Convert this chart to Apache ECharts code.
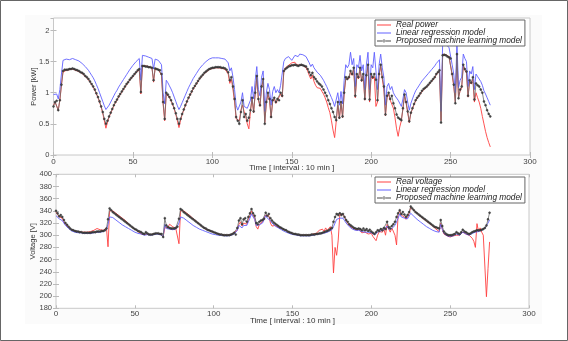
<!DOCTYPE html>
<html>
<head>
<meta charset="utf-8">
<script src="https://cdn.jsdelivr.net/npm/echarts@6/dist/echarts.min.js"></script>
<style>
html,body{margin:0;padding:0;background:#fff;}
#c{width:568px;height:341px;}
</style>
</head>
<body>
<div id="c"></div>
<script>
// ---------- DATA ----------
var xTicks = [0, 50, 100, 150, 200, 250, 300];
var powerTicks = [0, 0.5, 1, 1.5, 2];
var voltageTicks = [180, 200, 220, 240, 260, 280, 300, 320, 340, 360, 380, 400];

var powerNames = ['Real power', 'Linear regression model', 'Proposed machine learning model'];
var voltageNames = ['Real voltage', 'Linear regression model', 'Proposed machine learning model'];

var powerReal = [
0.80,0.85,0.86,0.72,0.88,1.12,1.33,1.35,1.36,1.36,
1.37,1.37,1.38,1.37,1.36,1.35,1.34,1.32,1.31,1.29,
1.26,1.24,1.21,1.17,1.13,1.09,1.04,0.98,0.92,0.85,
0.77,0.67,0.55,0.43,0.53,0.61,0.67,0.73,0.79,0.84,
0.88,0.93,0.97,1.01,1.05,1.09,1.13,1.16,1.20,1.23,
1.26,1.29,1.32,1.35,1.37,0.98,1.43,1.44,1.43,1.42,
1.42,1.41,1.40,1.17,1.39,1.38,1.37,1.35,1.28,0.82,
0.55,0.98,0.96,0.92,0.87,0.81,0.74,0.65,0.55,0.44,
0.56,0.65,0.72,0.79,0.85,0.91,0.96,1.01,1.06,1.10,
1.14,1.18,1.22,1.25,1.28,1.31,1.33,1.35,1.37,1.38,
1.39,1.39,1.40,1.40,1.40,1.40,1.39,1.39,1.38,1.36,
1.30,1.15,1.22,1.05,0.85,0.58,0.60,0.55,0.72,0.80,
0.70,0.62,0.50,0.42,0.70,0.90,0.68,0.98,1.25,0.88,
0.78,1.08,1.20,0.52,0.83,0.98,0.88,0.60,0.86,0.90,
0.83,0.88,0.86,0.98,0.93,1.33,1.40,1.42,1.44,1.45,
1.48,1.46,1.49,1.45,1.43,1.44,1.45,1.44,1.42,1.40,
1.35,1.28,1.22,1.28,1.18,1.12,1.08,1.10,1.07,1.02,
0.98,0.92,0.85,0.76,0.68,0.55,0.40,0.28,0.25,0.80,
0.58,0.83,0.60,0.98,1.22,1.20,1.23,1.33,1.28,1.38,
0.92,1.28,1.22,1.38,1.18,1.28,0.88,1.26,1.43,0.85,
1.28,1.22,1.26,0.78,0.85,1.28,1.43,1.22,1.05,0.63,
0.92,0.98,0.88,0.90,0.75,0.60,0.42,0.30,0.45,0.55,
0.74,0.96,0.83,0.68,0.52,0.67,0.74,0.81,0.87,0.91,
0.94,0.98,1.02,1.05,1.07,1.09,1.12,1.15,1.18,1.21,
1.24,1.29,1.32,1.35,0.55,1.62,1.62,1.61,1.59,1.58,
1.56,1.28,1.10,0.85,1.60,0.92,1.03,1.08,1.43,1.36,
1.32,0.93,1.18,1.14,1.22,0.85,1.00,0.92,0.85,0.75,
0.62,0.50,0.38,0.28,0.20,0.13
];

var powerLinear = [
0.97,1.00,0.98,0.90,1.05,1.30,1.52,1.54,1.54,1.53,
1.53,1.54,1.55,1.54,1.53,1.52,1.51,1.49,1.47,1.45,
1.42,1.39,1.36,1.32,1.28,1.24,1.19,1.13,1.07,1.00,
0.93,0.86,0.79,0.73,0.75,0.80,0.85,0.90,0.95,1.00,
1.04,1.09,1.13,1.17,1.21,1.25,1.29,1.33,1.37,1.40,
1.44,1.47,1.50,1.53,1.55,1.20,1.60,1.60,1.59,1.58,
1.57,1.56,1.55,1.38,1.54,1.53,1.52,1.50,1.45,1.00,
0.82,1.20,1.16,1.11,1.06,1.00,0.93,0.86,0.79,0.73,
0.78,0.84,0.90,0.96,1.02,1.08,1.13,1.18,1.23,1.27,
1.31,1.35,1.39,1.42,1.45,1.48,1.50,1.52,1.54,1.55,
1.56,1.56,1.56,1.56,1.56,1.56,1.55,1.55,1.54,1.52,
1.48,1.35,1.40,1.25,1.05,0.80,0.72,0.70,0.85,1.00,
0.78,0.80,0.75,0.78,0.88,1.10,0.90,1.20,1.42,1.05,
0.95,1.25,1.35,0.70,1.00,1.15,1.05,0.80,1.02,1.10,
1.00,1.05,1.00,1.12,1.10,1.50,1.55,1.57,1.58,1.58,
1.52,1.55,1.60,1.59,1.58,1.62,1.62,1.61,1.60,1.58,
1.55,1.48,1.42,1.46,1.40,1.37,1.33,1.31,1.28,1.25,
1.20,1.15,1.10,1.04,0.98,0.92,0.86,0.78,0.75,1.00,
0.80,1.02,0.82,1.20,1.45,1.40,1.45,1.65,1.45,1.55,
1.10,1.45,1.40,1.60,1.35,1.45,1.05,1.45,1.65,1.05,
1.45,1.40,1.65,1.35,1.05,1.45,1.62,1.40,1.25,0.80,
1.10,1.15,1.05,1.10,1.00,0.95,0.92,0.88,0.85,0.78,
0.90,1.05,1.00,0.85,0.72,0.83,0.90,0.97,1.03,1.07,
1.11,1.15,1.19,1.22,1.25,1.28,1.31,1.34,1.37,1.40,
1.43,1.47,1.50,1.53,0.70,1.78,1.78,1.77,1.75,1.73,
1.71,1.45,1.30,1.00,1.80,1.08,1.20,1.25,1.62,1.55,
1.50,1.10,1.35,1.30,1.42,1.05,1.30,1.26,1.22,1.18,
1.12,1.03,0.98,0.92,0.86,0.80
];

var powerProposed = [
0.78,0.85,0.87,0.72,0.88,1.13,1.35,1.37,1.37,1.37,
1.38,1.38,1.39,1.38,1.37,1.36,1.35,1.33,1.32,1.30,
1.27,1.25,1.22,1.18,1.14,1.10,1.05,0.99,0.93,0.86,
0.78,0.69,0.58,0.50,0.55,0.62,0.68,0.74,0.80,0.85,
0.89,0.94,0.98,1.02,1.06,1.10,1.14,1.17,1.21,1.24,
1.27,1.30,1.33,1.36,1.38,1.01,1.43,1.43,1.42,1.42,
1.41,1.41,1.40,1.20,1.39,1.38,1.37,1.36,1.30,0.85,
0.58,1.00,0.97,0.93,0.88,0.82,0.75,0.67,0.58,0.50,
0.58,0.66,0.73,0.80,0.86,0.92,0.97,1.02,1.07,1.11,
1.15,1.19,1.23,1.26,1.29,1.32,1.34,1.36,1.38,1.39,
1.40,1.40,1.41,1.41,1.41,1.41,1.40,1.40,1.39,1.37,
1.33,1.20,1.25,1.10,0.90,0.61,0.55,0.50,0.69,0.88,
0.61,0.66,0.55,0.60,0.72,0.92,0.70,1.00,1.27,0.90,
0.80,1.10,1.22,0.50,0.85,1.00,0.90,0.61,0.88,0.92,
0.85,0.90,0.88,1.00,0.95,1.35,1.38,1.40,1.42,1.43,
1.44,1.44,1.45,1.44,1.43,1.44,1.45,1.44,1.43,1.42,
1.38,1.33,1.28,1.32,1.25,1.22,1.18,1.15,1.13,1.10,
1.05,1.00,0.95,0.88,0.82,0.75,0.69,0.61,0.56,0.85,
0.60,0.85,0.62,1.00,1.25,1.22,1.25,1.35,1.30,1.40,
0.95,1.30,1.25,1.40,1.20,1.30,0.90,1.28,1.45,0.89,
1.30,1.25,1.30,1.21,0.88,1.30,1.45,1.25,1.10,0.65,
0.95,1.00,0.90,0.95,0.83,0.75,0.65,0.60,0.58,0.56,
0.75,0.97,0.85,0.70,0.54,0.68,0.75,0.82,0.88,0.92,
0.95,0.99,1.03,1.06,1.08,1.10,1.13,1.16,1.19,1.22,
1.25,1.30,1.33,1.36,0.52,1.60,1.61,1.60,1.58,1.57,
1.55,1.30,1.13,0.83,1.62,0.91,1.05,1.10,1.45,1.38,
1.34,0.95,1.20,1.16,1.25,0.89,1.15,1.12,1.10,1.05,
1.00,0.86,0.80,0.72,0.66,0.62
];

var voltageReal = [
338,334,330,332,328,322,318,315,313,310,
309,308,307,306,306,305,305,305,305,305,
305,305,306,307,308,309,311,310,309,308,
308,309,312,281,340,342,340,338,336,334,
332,330,328,326,324,321,319,316,314,312,
310,308,306,304,302,301,301,303,302,301,
301,301,302,303,303,303,302,301,298,312,
312,313,318,320,314,311,311,312,286,340,
342,340,338,336,334,332,330,327,325,323,
320,318,316,314,312,310,309,308,307,306,
305,304,303,302,301,301,300,300,300,300,
300,301,303,305,302,308,318,322,315,320,
322,318,326,332,340,333,328,314,310,318,
320,322,325,333,330,332,320,315,312,316,
315,313,312,311,310,309,307,306,305,304,
303,302,302,301,301,300,300,300,300,300,
300,300,301,302,302,303,305,308,306,310,
306,312,308,310,314,300,238,280,267,292,
334,332,334,330,324,320,316,314,312,310,
309,308,309,306,304,307,305,306,302,305,
303,298,295,291,300,306,308,305,310,300,
318,310,305,312,315,300,284,334,340,333,
336,330,326,330,336,346,344,341,338,336,
334,331,329,327,325,323,321,319,317,315,
312,310,308,306,320,310,302,300,299,298,
297,298,299,297,300,298,300,302,305,302,
302,300,300,298,295,290,280,319,306,312,
305,300,302,199,245,289
];

var voltageLinear = [
332,330,327,326,324,320,316,313,311,309,
307,306,305,305,304,304,304,303,303,303,
303,303,303,304,304,304,305,305,305,306,
306,307,309,318,330,331,329,327,325,323,
321,319,317,315,314,312,311,309,308,307,
305,304,303,302,302,301,300,302,301,300,
300,300,301,302,302,302,301,301,298,318,
311,310,310,309,309,309,310,312,320,330,
330,328,326,324,322,320,318,316,315,313,
312,310,309,308,307,306,305,304,303,302,
302,301,301,300,300,300,299,299,299,299,
299,300,301,302,300,308,316,318,312,316,
318,316,322,328,335,330,326,316,314,317,
319,320,322,332,328,330,324,320,317,315,
313,312,310,309,307,306,305,304,303,302,
301,301,300,300,300,299,299,299,299,299,
299,299,300,300,300,301,301,302,302,303,
303,304,305,306,307,309,314,320,326,325,
328,326,328,324,320,317,314,312,310,309,
308,307,308,307,306,308,305,307,305,307,
304,302,301,303,305,305,307,306,309,307,
315,310,308,311,313,316,322,328,335,330,
332,328,325,327,330,336,334,331,328,326,
324,322,320,318,316,314,312,311,309,308,
307,306,305,305,318,310,303,301,299,298,
298,298,299,300,302,301,300,302,305,303,
302,301,300,301,303,304,305,306,306,307,
308,309,311,314,320,325
];

var voltageProposed = [
340,336,331,333,330,325,320,317,314,311,
309,308,307,306,306,305,305,304,304,304,
304,304,304,305,305,305,306,306,306,307,
307,308,311,326,344,341,338,336,334,332,
330,328,326,324,322,320,318,316,314,312,
310,309,307,306,305,303,302,305,303,301,
301,301,302,303,303,303,302,302,297,328,
316,313,312,311,311,311,312,314,327,343,
341,338,336,334,332,330,328,326,324,322,
320,318,316,314,312,311,309,308,307,306,
305,304,303,302,301,301,300,300,300,300,
300,301,302,304,301,312,324,328,318,326,
328,322,330,336,343,336,332,320,318,322,
324,325,327,337,332,335,328,324,321,319,
317,315,313,312,310,309,308,306,305,304,
303,302,302,301,301,300,300,300,300,300,
300,300,301,301,301,302,302,303,303,304,
305,306,307,308,310,312,322,330,335,333,
336,333,335,330,325,322,318,316,314,312,
311,310,311,310,308,311,308,310,307,309,
306,304,302,305,308,307,310,308,312,310,
322,313,311,315,318,322,330,336,341,335,
338,334,330,333,338,347,344,341,338,336,
334,332,330,328,326,324,322,320,318,316,
314,313,312,311,325,315,306,303,301,300,
300,300,301,302,305,303,302,305,309,306,
305,303,302,303,305,306,307,308,308,308,
309,310,312,316,326,337
];

// ---------- CHART ----------
var FONT = '"Liberation Sans", Arial, sans-serif';
var RED = '#ff4040', BLUE = '#6060ff', GRAY = '#6a6a6a', MARK = '#4a4a4a';
function pairs(arr){ return arr.map(function(v,i){ return [i, v]; }); }

var chart = echarts.init(document.getElementById('c'), null, {renderer:'canvas'});

var grids = [
  {left:53.5, top:18, width:476.5, height:137, show:true, borderColor:'#c8c8c8', borderWidth:1, backgroundColor:'#fff'},
  {left:56, top:174.3, width:473, height:134, show:true, borderColor:'#c8c8c8', borderWidth:1, backgroundColor:'#fff'}
];

function xAx(gi, pos, showLabel, name, margin, gap){
  return {
    type:'value', gridIndex:gi, position:pos, min:xTicks[0], max:xTicks[xTicks.length-1], interval:xTicks[1]-xTicks[0],
    axisLine:{show:false},
    axisTick:{show:true, inside:true, length:3, lineStyle:{color:'#bbb'}},
    axisLabel:{show:showLabel, fontSize:8, color:'#444', fontFamily:FONT, margin:margin||3},
    splitLine:{show:false},
    name: name || '', nameLocation:'middle', nameGap:gap||8, nameMoveOverlap:false,
    nameTextStyle:{fontSize:8, color:'#333', fontFamily:FONT, verticalAlign:'top'}
  };
}
function yAx(gi, pos, ticks, showLabel, name, gap, maxV){
  return {
    type:'value', gridIndex:gi, position:pos, min:ticks[0], max:maxV, interval:ticks[1]-ticks[0],
    axisLine:{show:false},
    axisTick:{show:true, inside:true, length:3, lineStyle:{color:'#bbb'}},
    axisLabel:{show:showLabel, fontSize:7.5, color:'#444', fontFamily:FONT, margin:4,
      showMaxLabel: maxV === ticks[ticks.length-1]},
    splitLine:{show:false},
    name: name || '', nameLocation:'middle', nameGap:gap||18, nameRotate:90, nameMoveOverlap:false,
    nameTextStyle:{fontSize:7.5, color:'#333', fontFamily:FONT}
  };
}

function mkSeries(names, real, lin, prop, xi, yi){
  return [
    {name:names[0], type:'line', xAxisIndex:xi, yAxisIndex:yi, data:pairs(real), showSymbol:false, symbol:'none',
     lineStyle:{color:RED, width:0.9}, itemStyle:{color:RED}, animation:false, z:2},
    {name:names[1], type:'line', xAxisIndex:xi, yAxisIndex:yi, data:pairs(lin), showSymbol:false, symbol:'none',
     lineStyle:{color:BLUE, width:0.9}, itemStyle:{color:BLUE}, animation:false, z:3},
    {name:names[2], type:'line', xAxisIndex:xi, yAxisIndex:yi, data:pairs(prop), symbol:'circle', symbolSize:2, showSymbol:true,
     lineStyle:{color:GRAY, width:0.8}, itemStyle:{color:MARK, borderColor:'#222', borderWidth:0.4}, animation:false, z:4}
  ];
}

var lineIcon = 'path://M0,2 L14,2 L14,3 L0,3 Z';
var markIcon = 'path://M0,2 L14,2 L14,3 L0,3 Z M5.6,2.5 A1.4,1.4 0 1 0 8.4,2.5 A1.4,1.4 0 1 0 5.6,2.5 Z';

function legendCfg(names, top){
  return {
    orient:'vertical', left:375, top:top,
    data:[
      {name:names[0], icon:lineIcon},
      {name:names[1], icon:lineIcon},
      {name:names[2], icon:markIcon}
    ],
    itemGap:0, itemWidth:14, itemHeight:5, padding:[1,3,1,2],
    backgroundColor:'#fff', borderColor:'#666', borderWidth:1, borderRadius:0,
    itemStyle:{borderWidth:0},
    textStyle:{fontSize:8.3, fontStyle:'italic', color:'#222', fontFamily:FONT, lineHeight:6, padding:[0,0,0,0]},
    selectedMode:false
  };
}

var option = {
  backgroundColor:'#fff',
  animation:false,
  textStyle:{fontFamily:FONT},
  graphic:[
    {type:'rect', shape:{x:0.5, y:0.5, width:567, height:340}, style:{fill:'none', stroke:'#666', lineWidth:1}, z:-10},
    {type:'rect', shape:{x:25, y:15, width:517, height:309}, style:{fill:'#fbfbfb', stroke:'none'}, z:-9}
  ],
  grid: grids,
  xAxis: [
    xAx(0,'bottom',true,'Time [ interval : 10 min ]',3,9), xAx(0,'top',false),
    xAx(1,'bottom',true,'Time [ interval : 10 min ]',1.5,8), xAx(1,'top',false)
  ],
  yAxis: [
    yAx(0,'left',powerTicks,true,'Power [kW]',16,2.2), yAx(0,'right',powerTicks,false,'',0,2.2),
    yAx(1,'left',voltageTicks,true,'Voltage [V]',19,400), yAx(1,'right',voltageTicks,false,'',0,400)
  ],
  legend:[legendCfg(powerNames, 20), legendCfg(voltageNames, 177)],
  series: [].concat(
    mkSeries(powerNames, powerReal, powerLinear, powerProposed, 0, 0),
    mkSeries(voltageNames, voltageReal, voltageLinear, voltageProposed, 2, 2)
  )
};
chart.setOption(option);
</script>
</body>
</html>
